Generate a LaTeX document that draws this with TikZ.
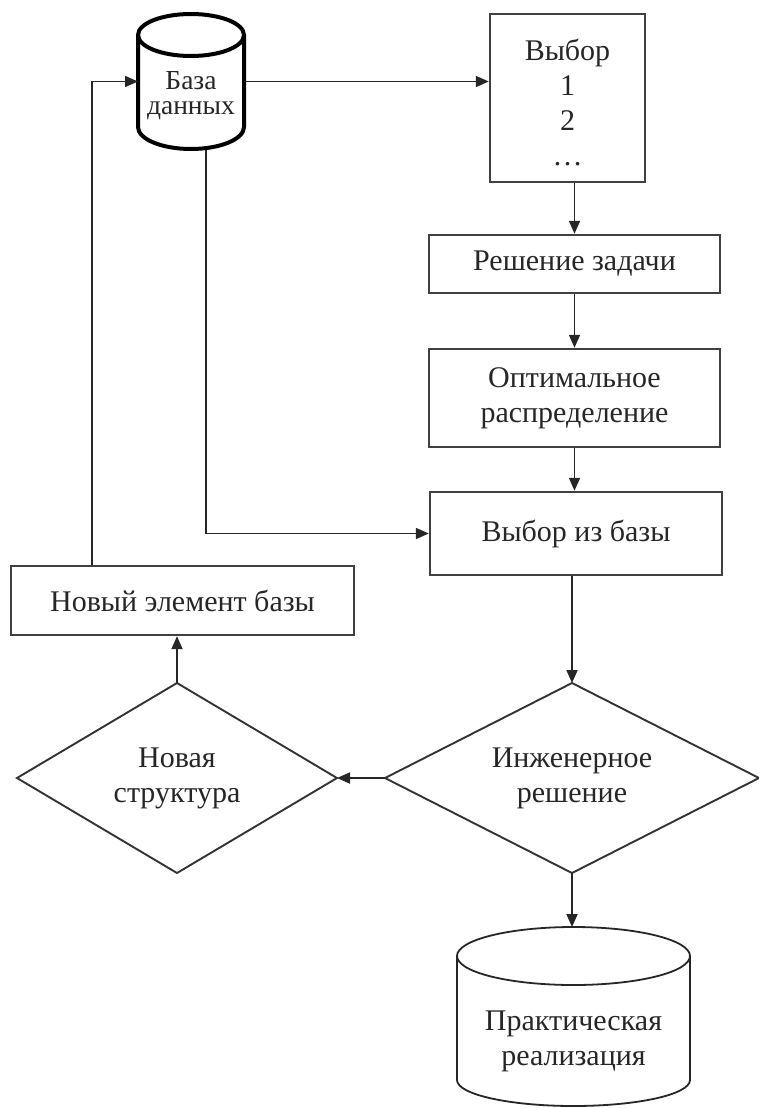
\documentclass[tikz,border=0pt]{standalone}
\usepackage{fontspec}
\setmainfont{Liberation Serif}
\usetikzlibrary{arrows.meta}
\begin{document}
\begin{tikzpicture}[x=1pt,y=-1pt,
  txt/.style={font=\fontsize{30}{35}\selectfont, align=center, text=black!85},
  box/.style={txt, draw=black!75, line width=2.4pt, inner sep=0pt},
  area/.style={inner sep=0pt, outer sep=0pt},
  conn/.style={line width=1.8pt, draw=black!85},
  arr/.style={conn, -{Triangle[length=13pt,width=11pt]}},
  dshape/.style={line width=1.9pt, draw=black!80, line join=miter}
]
\useasboundingbox (0,0) rectangle (759,1108);

% top cylinder: База данных
\node[area, minimum width=106pt, minimum height=137pt] (db) at (191,81.5) {};
\draw[line width=4pt] (138,35) -- (138,127)
  arc[start angle=180, end angle=360, x radius=53pt, y radius=22pt] -- (244,35);
\draw[line width=4pt] (191,35) ellipse [x radius=53pt, y radius=21pt];
\node[txt, font=\fontsize{27.5}{25}\selectfont] (dbl) at (191,96) {База\\данных};

% Выбор box
\node[box, minimum width=155pt, minimum height=168pt] (choice) at (567.5,98) {};
\node[txt] (choicel) at (567.5,102) {Выбор\\1\\2\\…};

% right column boxes
\node[box, minimum width=291pt, minimum height=58pt] (sol) at (574.5,264) {Решение задачи};
\node[box, minimum width=291pt, minimum height=98pt] (opt) at (574.5,398) {Оптимальное\\распределение};
\node[box, minimum width=292pt, minimum height=83pt] (sel) at (576,533.5) {Выбор из базы};

% left box
\node[box, minimum width=343pt, minimum height=69pt] (new) at (182.5,600.5) {Новый элемент базы};

% diamonds
\node[area, txt, minimum width=374pt, minimum height=190pt] (eng) at (572,778) {Инженерное\\решение};
\draw[dshape] (eng.north) -- (eng.east) -- (eng.south) -- (eng.west) -- cycle;
\node[area, txt, minimum width=320pt, minimum height=190pt] (ns) at (177,778) {Новая\\структура};
\draw[dshape] (ns.north) -- (ns.east) -- (ns.south) -- (ns.west) -- cycle;

% bottom cylinder: Практическая реализация
\node[area, minimum width=233pt, minimum height=180pt] (prac) at (573.5,1017) {};
\draw[line width=1.8pt, draw=black!85] (457,956) -- (457,1080)
  arc[start angle=180, end angle=360, x radius=116.5pt, y radius=26pt] -- (690,956);
\draw[line width=1.8pt, draw=black!85] (573.5,956) ellipse [x radius=116.5pt, y radius=29pt];
\node[txt] (pracl) at (573.5,1041) {Практическая\\реализация};

% connectors
\draw[arr] (db.east) -- (db.east -| choice.west);
\draw[arr] (choice.south -| sol.north) -- (sol.north);
\draw[arr] (sol.south) -- (opt.north);
\draw[arr] (opt.south) -- (opt.south |- sel.north);
\draw[arr] ([xshift=15pt]db.south) |- (sel.west);
\draw[arr] (eng.north |- sel.south) -- (eng.north);
\draw[arr] (eng.west) -- (ns.east);
\draw[arr] (ns.north) -- (ns.north |- new.south);
\draw[arr] ([xshift=-90.5pt]new.north) |- (db.west);
\draw[arr] (eng.south) -- (eng.south |- prac.north);
\end{tikzpicture}
\end{document}
